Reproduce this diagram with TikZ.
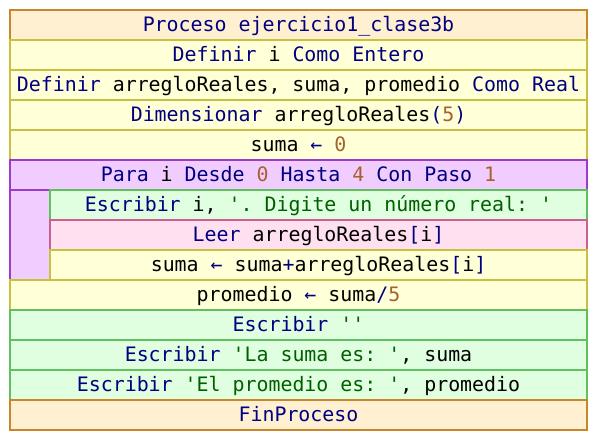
\documentclass[tikz,border=0pt]{standalone}
\usepackage{fontspec}
\setmonofont{DejaVu Sans Mono}
\definecolor{ofill}{HTML}{FFF0D2}
\definecolor{oline}{HTML}{C8862A}
\definecolor{yfill}{HTML}{FFFFD8}
\definecolor{yline}{HTML}{C8C040}
\definecolor{pfill}{HTML}{F0CCFF}
\definecolor{pline}{HTML}{9A3CC8}
\definecolor{gfill}{HTML}{E0FFE0}
\definecolor{gline}{HTML}{60C060}
\definecolor{kfill}{HTML}{FFE0F0}
\definecolor{kline}{HTML}{C86090}
\definecolor{kwc}{HTML}{000080}
\definecolor{strc}{HTML}{006000}
\definecolor{numc}{HTML}{A8602C}
\newcommand{\kw}[1]{\textcolor{kwc}{#1}}
\newcommand{\st}[1]{\textcolor{strc}{#1}}
\newcommand{\nm}[1]{\textcolor{numc}{#1}}
\tikzset{
  x=1pt, y=-1pt,
  rowbox/.style={rectangle, inner sep=0pt, minimum height=30pt, line width=2pt,
    font=\fontsize{19.9}{22}\ttfamily, text height=17.4pt, text depth=4pt},
  fullrow/.style={rowbox, minimum width=577pt},
  innerrow/.style={rowbox, minimum width=537pt},
  orangerow/.style={draw=oline, fill=ofill},
  yellowrow/.style={draw=yline, fill=yfill},
  purplerow/.style={draw=pline, fill=pfill},
  greenrow/.style={draw=gline, fill=gfill},
  pinkrow/.style={draw=kline, fill=kfill},
}
\begin{document}
\begin{tikzpicture}
\useasboundingbox (0,0) rectangle (596,440);
\fill[white] (0,0) rectangle (596,440);
\draw[line width=2pt, draw=pline, fill=pfill] (10,160) -- (587,160) -- (587,190) -- (50,190) -- (50,280) -- (10,280) -- cycle;
\node[fullrow, orangerow] (r0) at (298.5,25) {\kw{Proceso ejercicio1\_clase3b}};
\node[fullrow, yellowrow] (r1) at (298.5,55) {\kw{Definir} i \kw{Como Entero}};
\node[fullrow, yellowrow] (r2) at (298.5,85) {\kw{Definir} arregloReales, suma, promedio \kw{Como Real}};
\node[fullrow, yellowrow] (r3) at (298.5,115) {\kw{Dimensionar} arregloReales\kw{(}\nm{5}\kw{)}};
\node[fullrow, yellowrow] (r4) at (298.5,145) {suma \kw{←} \nm{0}};
\node[fullrow, purplerow] (r5) at (298.5,175) {\kw{Para} i \kw{Desde} \nm{0} \kw{Hasta} \nm{4} \kw{Con Paso} \nm{1}};
\node[innerrow, greenrow] (r6) at (318.5,205) {\kw{Escribir} i, \st{'. Digite un número real: '}};
\node[innerrow, pinkrow] (r7) at (318.5,235) {\kw{Leer} arregloReales\kw{[}i\kw{]}};
\node[innerrow, yellowrow] (r8) at (318.5,265) {suma \kw{←} suma\kw{+}arregloReales\kw{[}i\kw{]}};
\node[fullrow, yellowrow] (r9) at (298.5,295) {promedio \kw{←} suma\kw{/}\nm{5}};
\node[fullrow, greenrow] (r10) at (298.5,325) {\kw{Escribir} \st{''}};
\node[fullrow, greenrow] (r11) at (298.5,355) {\kw{Escribir} \st{'La suma es: '}, suma};
\node[fullrow, greenrow] (r12) at (298.5,385) {\kw{Escribir} \st{'El promedio es: '}, promedio};
\node[fullrow, orangerow] (r13) at (298.5,415) {\kw{FinProceso}};
\end{tikzpicture}
\end{document}
